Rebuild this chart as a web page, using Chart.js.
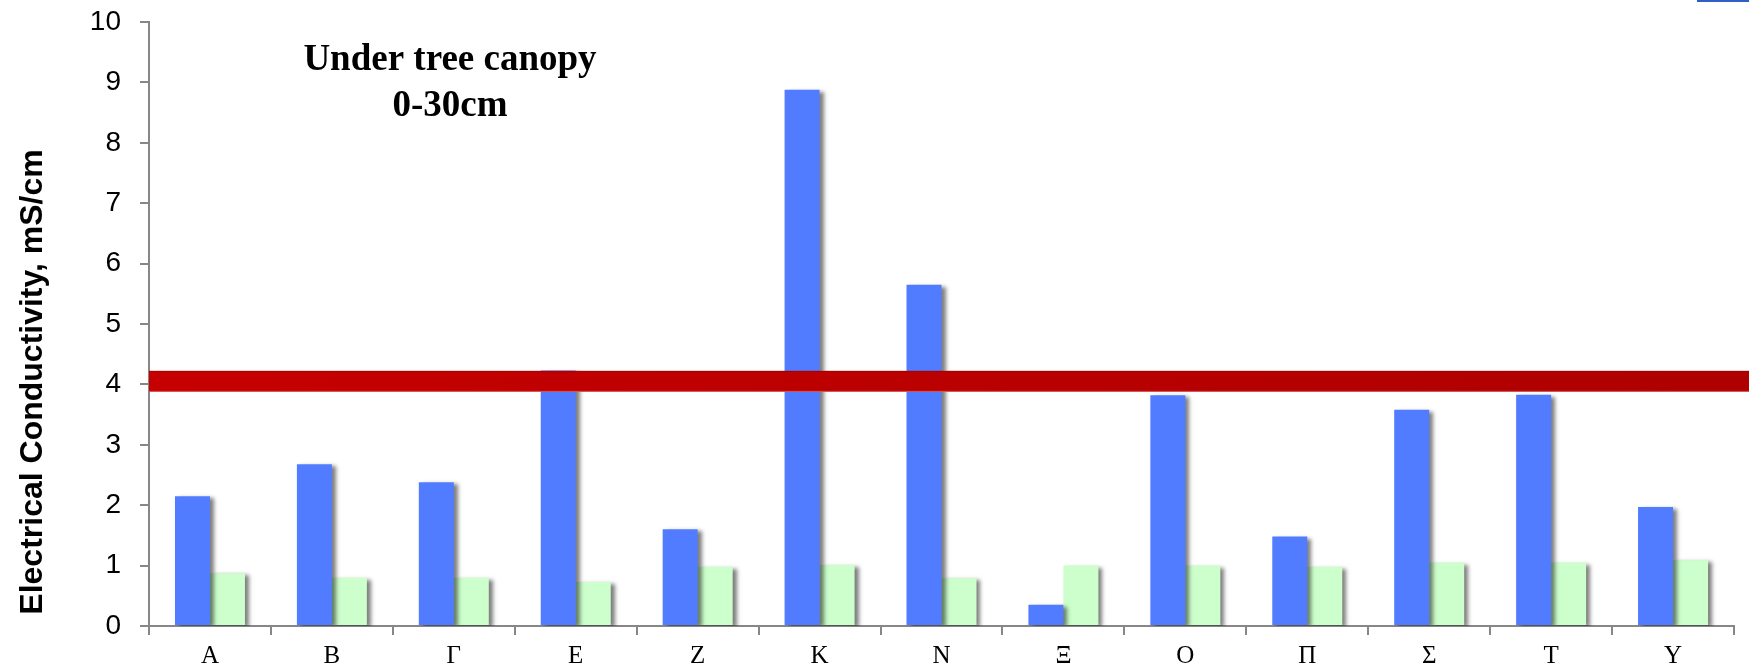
<!DOCTYPE html>
<html>
<head>
<meta charset="utf-8">
<title>Electrical Conductivity</title>
<script src="https://cdn.jsdelivr.net/npm/chart.js@4/dist/chart.umd.min.js"></script>
<style>
  html, body { margin: 0; padding: 0; background: #ffffff; }
  #wrap { width: 1749px; height: 672px; }
</style>
</head>
<body>
<div id="wrap"><canvas id="ec" width="1749" height="672"></canvas></div>
<script>
// Sampling sites
const categories = ['Α', 'Β', 'Γ', 'Ε', 'Ζ', 'Κ', 'Ν', 'Ξ', 'Ο', 'Π', 'Σ', 'Τ', 'Υ'];
// Electrical conductivity (mS/cm) per site
const seriesBlue  = [2.15, 2.68, 2.38, 4.23, 1.60, 8.88, 5.65, 0.35, 3.82, 1.48, 3.58, 3.83, 1.97];
const seriesGreen = [0.87, 0.80, 0.80, 0.73, 0.98, 1.01, 0.79, 1.00, 1.00, 0.98, 1.05, 1.05, 1.09];
// Salinity threshold line
const threshold = 4.05;
// Y axis ticks
const yTicks = [0, 1, 2, 3, 4, 5, 6, 7, 8, 9, 10];
const titleLines = ['Under tree canopy', '0-30cm'];
const yTitle = 'Electrical Conductivity, mS/cm';

const AXIS = '#878787';

// Soft drop shadow behind the bars
const barShadow = {
  id: 'barShadow',
  beforeDatasetsDraw(chart) {
    const ctx = chart.ctx;
    ctx.save();
    ctx.shadowColor = 'rgba(0,0,0,0.5)';
    ctx.shadowOffsetX = 4;
    ctx.shadowOffsetY = 2;
    ctx.shadowBlur = 4;
  },
  afterDatasetsDraw(chart) {
    chart.ctx.restore();
  }
};

// Thick red threshold band, title and axis title
const overlay = {
  id: 'overlay',
  afterDraw(chart) {
    const ctx = chart.ctx;
    const area = chart.chartArea;
    const y = chart.scales.y.getPixelForValue(threshold);
    const half = 10.5;
    const x0 = area.left;
    const x1 = chart.width;
    ctx.save();
    const g = ctx.createLinearGradient(x0, 0, x1, 0);
    g.addColorStop(0, '#c60000');
    g.addColorStop(1, '#ae0000');
    ctx.fillStyle = g;
    ctx.fillRect(x0, y - half, x1 - x0, half * 2);
    ctx.fillStyle = 'rgba(150,0,0,0.6)';
    ctx.fillRect(x0, y - half, x1 - x0, 1);
    ctx.fillStyle = 'rgba(225,110,110,0.8)';
    ctx.fillRect(x0, y + half - 1, x1 - x0, 1);

    // chart title inside the plot
    ctx.fillStyle = '#000';
    ctx.font = 'bold 37px "Liberation Serif", "Times New Roman", serif';
    ctx.textAlign = 'center';
    ctx.textBaseline = 'middle';
    const cx = area.left + 301;
    ctx.fillText(titleLines[0], cx, area.top + 38);
    ctx.fillText(titleLines[1], cx, area.top + 84);

    // y axis title
    ctx.translate(33, area.top + 360);
    ctx.rotate(-Math.PI / 2);
    ctx.font = 'bold 32px "Liberation Sans", Arial, sans-serif';
    ctx.fillText(yTitle, 0, 0);
    ctx.restore();

    // small blue mark at the top right corner
    ctx.save();
    ctx.fillStyle = '#2f5fc4';
    ctx.fillRect(chart.width - 52, 0, 52, 2);
    ctx.restore();
  }
};

new Chart(document.getElementById('ec'), {
  type: 'bar',
  data: {
    labels: categories,
    datasets: [
      { label: 'Series 1', data: seriesBlue, backgroundColor: '#527cff', borderWidth: 0 },
      { label: 'Series 2', data: seriesGreen, backgroundColor: '#ccffcc', borderWidth: 0 }
    ]
  },
  options: {
    responsive: false,
    devicePixelRatio: 1,
    animation: false,
    layout: { padding: { top: 22, right: 15, bottom: 0, left: 0 } },
    datasets: { bar: { categoryPercentage: 0.574, barPercentage: 1.0 } },
    plugins: { legend: { display: false }, tooltip: { enabled: false }, title: { display: false } },
    scales: {
      x: {
        offset: true,
        grid: { offset: true, drawOnChartArea: false, drawTicks: true, tickLength: 9, color: AXIS, lineWidth: 2 },
        border: { display: true, color: AXIS, width: 2 },
        ticks: {
          color: '#000',
          padding: 6,
          maxRotation: 0,
          font: { family: '"Liberation Serif", "Times New Roman", serif', size: 25 }
        },
        afterFit(scale) { scale.height = 46; scale.paddingLeft = 0; scale.paddingRight = 0; }
      },
      y: {
        min: 0,
        max: 10,
        afterBuildTicks(scale) { scale.ticks = yTicks.map(v => ({ value: v })); },
        grid: { drawOnChartArea: false, drawTicks: true, tickLength: 9, color: AXIS, lineWidth: 2 },
        border: { display: true, color: AXIS, width: 2 },
        ticks: {
          color: '#000',
          padding: 19,
          font: { family: '"Liberation Sans", Arial, sans-serif', size: 28 }
        },
        afterFit(scale) { scale.width = 149; scale.paddingTop = 0; scale.paddingBottom = 0; }
      }
    }
  },
  plugins: [barShadow, overlay]
});
</script>
</body>
</html>
